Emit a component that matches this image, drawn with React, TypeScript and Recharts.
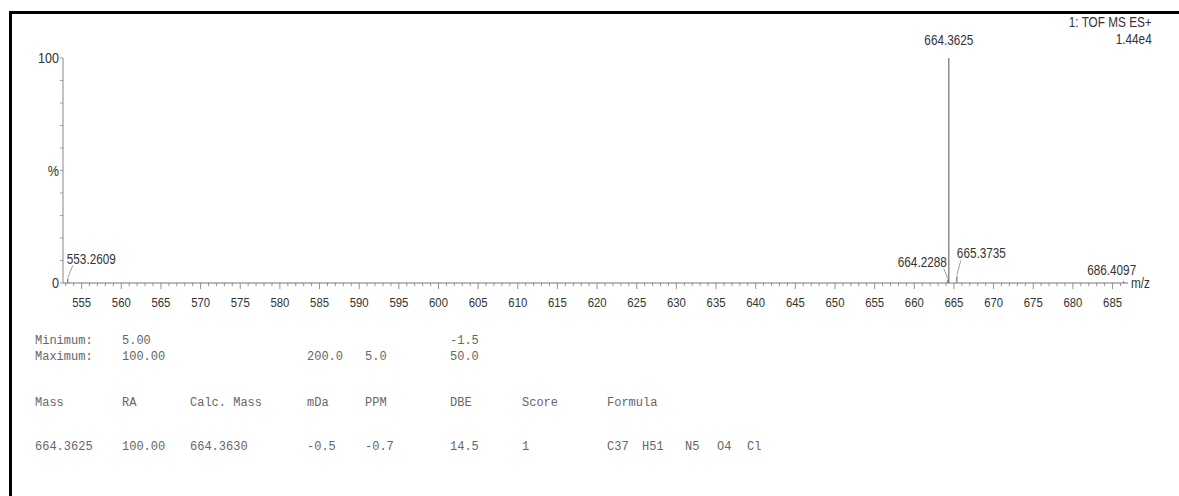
import React from 'react';
import { ComposedChart, Bar, XAxis, YAxis } from 'recharts';

// peaks
const MASSES = [553.2609, 664.2288, 664.3625, 665.3735, 686.4097];
const INTENSITIES = [2.0, 1.5, 100, 3.0, 0.8];
const PEAK_LABELS = ['553.2609', '664.2288', '664.3625', '665.3735', '686.4097'];

const X_LABELS = [555, 560, 565, 570, 575, 580, 585, 590, 595, 600, 605, 610, 615, 620, 625, 630, 635, 640, 645, 650, 655, 660, 665, 670, 675, 680, 685];
const Y_TICKS = [0, 10, 20, 30, 40, 50, 60, 70, 80, 90, 100];

const MIN_ROW = ['Minimum:', '5.00', '', '', '', '-1.5', '', ''];
const MAX_ROW = ['Maximum:', '100.00', '', '200.0', '5.0', '50.0', '', ''];
const HEADERS = ['Mass', 'RA', 'Calc. Mass', 'mDa', 'PPM', 'DBE', 'Score', 'Formula'];
const RESULT_ROW = ['664.3625', '100.00', '664.3630', '-0.5', '-0.7', '14.5', '1', ''];
const FORMULA = ['C37', 'H51', 'N5', 'O4', 'Cl'];

const data = MASSES.map((m, i) => ({ mass: m, intensity: INTENSITIES[i], label: PEAK_LABELS[i] }));

const minorTicks: number[] = [];
for (let v = 553; v <= 687; v++) minorTicks.push(v);

const COL_X = [35, 122, 190, 307, 365, 450, 522, 607];
const FORMULA_X = [607, 642, 685, 717, 747];

const SANS = "'Liberation Sans', Arial, sans-serif";
const MONO = "'Courier New', 'Liberation Mono', monospace";
const SQUEEZE = 0.84; // the original uses a narrow face

// where each peak label sits relative to the peak top
const PLACEMENT: Record<string, { anchor: string; dx: number; dy: number; lead: number }> = {
    '553.2609': { anchor: 'start', dx: -1, dy: -15, lead: 5 },
    '664.2288': { anchor: 'end', dx: -1, dy: -13, lead: -4 },
    '664.3625': { anchor: 'middle', dx: 0, dy: -13, lead: 0 },
    '665.3735': { anchor: 'start', dx: 0, dy: -18, lead: 4 },
    '686.4097': { anchor: 'middle', dx: -12, dy: -6, lead: 0 },
};

function NarrowText({ x, y, anchor, size, children }: any) {
    return (
        <text
            transform={`translate(${x},${y}) scale(${SQUEEZE},1)`}
            textAnchor={anchor}
            fontSize={size}
            fontFamily={SANS}
            fill="#333"
        >
            {children}
        </text>
    );
}

function PeakShape(props: any) {
    const { x, y, width, height, payload } = props;
    const cx = x + width / 2;
    const p = PLACEMENT[payload.label];
    const ty = y + p.dy;
    return (
        <g>
            <line x1={cx} y1={y} x2={cx} y2={y + height} stroke="#555" strokeWidth={1} />
            {p.lead !== 0 && (
                <line x1={cx} y1={y - 1} x2={cx + p.lead} y2={ty + 2} stroke="#888" strokeWidth={0.8} />
            )}
            <NarrowText x={cx + p.dx} y={ty} anchor={p.anchor} size={14}>
                {payload.label}
            </NarrowText>
        </g>
    );
}

function XTick(props: any) {
    const { x, y, payload } = props;
    const major = X_LABELS.includes(payload.value);
    return (
        <g>
            <line x1={x} y1={y} x2={x} y2={y + (major ? 6 : 3)} stroke="#777" strokeWidth={0.8} />
            {major && (
                <NarrowText x={x} y={y + 24} anchor="middle" size={13.5}>
                    {payload.value}
                </NarrowText>
            )}
        </g>
    );
}

function YTick(props: any) {
    const { x, y, payload } = props;
    const v = payload.value;
    const text = v === 100 ? '100' : v === 0 ? '0' : v === 50 ? '%' : '';
    return (
        <g>
            <line x1={x} y1={y} x2={x - 3} y2={y} stroke="#888" strokeWidth={0.8} />
            {text && (
                <NarrowText x={x - 4} y={y + 5} anchor="end" size={15}>
                    {text}
                </NarrowText>
            )}
        </g>
    );
}

function Row({ cells, y }: { cells: string[]; y: number }) {
    return (
        <>
            {cells.map((c, i) =>
                c ? (
                    <div key={i} style={{ position: 'absolute', left: COL_X[i], top: y - 8, whiteSpace: 'pre' }}>
                        {c}
                    </div>
                ) : null
            )}
        </>
    );
}

const narrowDiv = { transform: `scaleX(${SQUEEZE})`, transformOrigin: 'right center' };

export default function App() {
    return (
        <div style={{ position: 'absolute', left: 0, top: 0, width: 1179, height: 496, background: '#fff', overflow: 'hidden' }}>
            <div
                style={{
                    position: 'absolute', left: 9, top: 11, width: 1179, height: 496,
                    borderTop: '3px solid #000', borderLeft: '3px solid #000',
                }}
            />
            <div style={{ position: 'absolute', left: 0, top: 0 }}>
                <ComposedChart width={1179} height={320} data={data} margin={{ top: 58, right: 51, bottom: 0, left: 0 }}>
                    <XAxis
                        type="number"
                        dataKey="mass"
                        domain={[552.65, 686.95]}
                        ticks={minorTicks.filter((t) => t >= 553 && t <= 686)}
                        interval={0}
                        tickSize={0}
                        tickMargin={0}
                        tickLine={false}
                        tick={<XTick />}
                        stroke="#777"
                        height={37}
                    />
                    <YAxis
                        type="number"
                        domain={[0, 100]}
                        ticks={Y_TICKS}
                        interval={0}
                        tickSize={0}
                        tickMargin={0}
                        tickLine={false}
                        tick={<YTick />}
                        stroke="#888"
                        width={63}
                    />
                    <Bar dataKey="intensity" barSize={1} shape={<PeakShape />} isAnimationActive={false} />
                </ComposedChart>
            </div>
            <div style={{ position: 'absolute', right: 27, top: 14, textAlign: 'right', fontFamily: SANS, fontSize: 14, color: '#333', lineHeight: '17px', ...narrowDiv }}>
                <div>1: TOF MS ES+</div>
                <div>1.44e4</div>
            </div>
            <div style={{ position: 'absolute', left: 1131, top: 275, fontFamily: SANS, fontSize: 14, color: '#333', transform: `scaleX(${SQUEEZE})`, transformOrigin: 'left center' }}>m/z</div>
            <div style={{ fontFamily: MONO, fontSize: 12, color: '#666', lineHeight: '16px' }}>
                <Row cells={MIN_ROW} y={341} />
                <Row cells={MAX_ROW} y={357} />
                <Row cells={HEADERS} y={403} />
                <Row cells={RESULT_ROW} y={447} />
                {FORMULA.map((f, i) => (
                    <div key={f} style={{ position: 'absolute', left: FORMULA_X[i], top: 447 - 8 }}>
                        {f}
                    </div>
                ))}
            </div>
        </div>
    );
}
